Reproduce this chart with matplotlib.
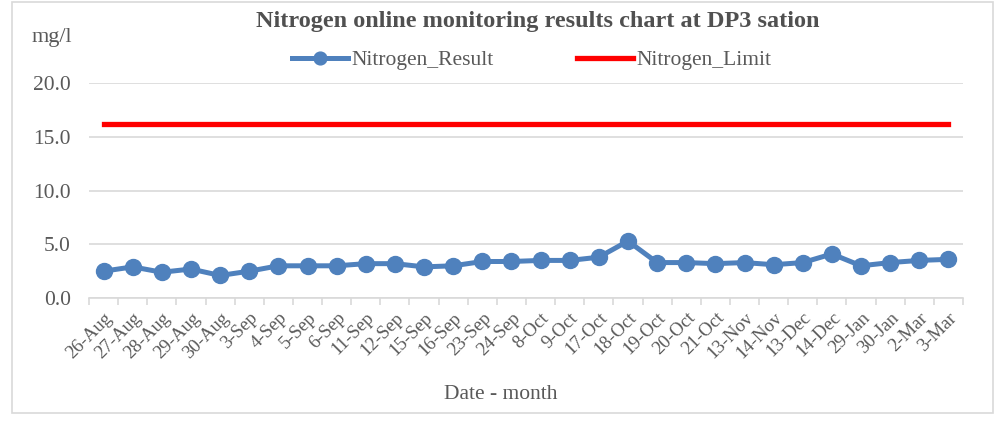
import matplotlib
matplotlib.use("Agg")
import matplotlib.pyplot as plt
import numpy as np
from matplotlib.patches import Rectangle

dates = ["26-Aug", "27-Aug", "28-Aug", "29-Aug", "30-Aug", "3-Sep", "4-Sep", "5-Sep",
         "6-Sep", "11-Sep", "12-Sep", "15-Sep", "16-Sep", "23-Sep", "24-Sep", "8-Oct",
         "9-Oct", "17-Oct", "18-Oct", "19-Oct", "20-Oct", "21-Oct", "13-Nov", "14-Nov",
         "13-Dec", "14-Dec", "29-Jan", "30-Jan", "2-Mar", "3-Mar"]
nitrogen_result = [2.5, 2.9, 2.4, 2.7, 2.1, 2.5, 3.0, 3.0, 3.0, 3.2, 3.2, 2.9, 3.0, 3.4, 3.4,
                   3.5, 3.5, 3.8, 5.3, 3.3, 3.3, 3.2, 3.3, 3.1, 3.3, 4.1, 3.0, 3.3, 3.5, 3.6]
nitrogen_limit = [16.2] * len(dates)
y_ticks = [0, 5, 10, 15, 20]

plt.rcParams['font.family'] = ['Liberation Serif', 'DejaVu Serif']

fig = plt.figure(figsize=(10.05, 4.21), dpi=100)
ax = fig.add_axes([0.0886, 0.292, 0.8696, 0.511])

x = np.arange(len(dates))
ax.plot(x, nitrogen_result, color='#4f81bd', lw=3.6, marker='o', ms=11.5,
        label='Nitrogen_Result', zorder=3)
ax.plot(x, nitrogen_limit, color='#ff0000', lw=3.8, label='Nitrogen_Limit', zorder=3)

ax.set_xlim(-0.5, len(dates) - 0.5)
ax.set_ylim(0, 20)
ax.set_yticks(y_ticks)
ax.set_yticklabels([f"{v:.1f}" for v in y_ticks], fontsize=15.5, color='#595959')
ax.yaxis.grid(True, color='#d9d9d9', lw=1.2)
ax.set_axisbelow(True)
ax.tick_params(axis='y', length=0, pad=13)

ax.set_xticks(x)
ax.set_xticklabels(dates, rotation=45, ha='right', rotation_mode='anchor',
                   fontsize=13.5, color='#595959')
ax.tick_params(axis='x', which='major', length=0, pad=8)
ax.set_xticks(np.arange(-0.5, len(dates)), minor=True)
ax.tick_params(axis='x', which='minor', length=5, color='#d9d9d9', width=1.2)

for s in ['top', 'right', 'left']:
    ax.spines[s].set_visible(False)
ax.spines['bottom'].set_color('#d9d9d9')
ax.spines['bottom'].set_linewidth(1.2)

fig.text(0.535, 0.948, 'Nitrogen online monitoring results chart at DP3 sation',
         ha='center', va='center', fontsize=17.5, fontweight='bold', color='#505050')
fig.text(0.052, 0.912, 'mg/l', ha='center', va='center', fontsize=16, color='#595959')
fig.text(0.498, 0.062, 'Date - month', ha='center', va='center', fontsize=15.5,
         color='#595959')

fig.legend(loc='center', bbox_to_anchor=(0.529, 0.857), ncol=2, frameon=False,
           fontsize=15.5, handlelength=2.6, columnspacing=3.9, handletextpad=0.15,
           labelcolor='#595959', markerscale=0.8)

fig.patches.append(Rectangle((0.012, 0.02), 0.976, 0.975, transform=fig.transFigure,
                             fill=False, edgecolor='#d9d9d9', lw=1.2))

fig.savefig('out.png', dpi=100)
